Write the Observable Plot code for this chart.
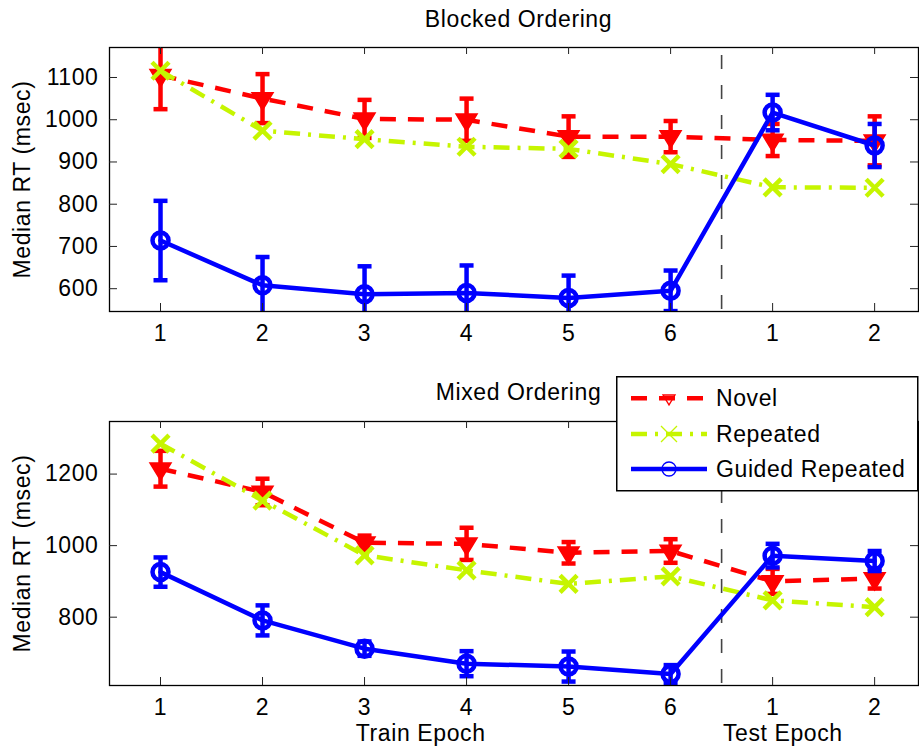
<!DOCTYPE html>
<html>
<head>
<meta charset="utf-8">
<script src="https://cdn.jsdelivr.net/npm/d3@7"></script>
<script src="https://cdn.jsdelivr.net/npm/@observablehq/plot@0.6"></script>
<style>
  body { margin: 0; background: #fff; }
  #wrap { position: relative; width: 919px; height: 754px; font-family: "Liberation Sans", Arial, Helvetica, sans-serif; }
  .panel { position: relative; }
  .panel svg { display: block; letter-spacing: 0.6px; }
  #legend { position: absolute; left: 616px; top: 6px; }
</style>
</head>
<body>
<div id="wrap">
  <div class="panel" id="top"></div>
  <div class="panel" id="bottom"><div id="legend"></div></div>
</div>
<script>
// ---------- data ----------
const epochs = [1, 2, 3, 4, 5, 6, 7, 8];
const epochLabels = ["1", "2", "3", "4", "5", "6", "1", "2"];
const seriesNames = ["Novel", "Repeated", "Guided Repeated"];

// Blocked Ordering (top)
const blockedNovel      = [1105, 1050, 1002, 1000, 960, 960, 952, 950];
const blockedNovelErr   = [80, 58, 45, 50, 48, 37, 38, 58];
const blockedRepeated   = [1116, 974, 954, 936, 931, 895, 840, 839];
const blockedGuided     = [714, 608, 587, 590, 578, 595, 1017, 939];
const blockedGuidedErr  = [94, 67, 66, 65, 53, 48, 42, 51];
const blockedYTicks     = [600, 700, 800, 900, 1000, 1100];

// Mixed Ordering (bottom)
const mixedNovel        = [1215, 1150, 1008, 1005, 980, 985, 900, 908];
const mixedNovelErr     = [50, 37, 20, 45, 30, 33, 35, 28];
const mixedRepeated     = [1285, 1126, 973, 931, 893, 914, 847, 828];
const mixedGuided       = [926, 791, 712, 670, 662, 641, 972, 957];
const mixedGuidedErr    = [41, 42, 20, 35, 42, 25, 33, 28];
const mixedYTicks       = [800, 1000, 1200];

const phaseDivider = [6.5];

// ---------- styles ----------
const RED = "#ff0000", GREEN = "#c6f500", BLUE = "#0000ff";
const LW = 4.5;
const DASH_RED = "16,12";
const DASH_GREEN = "16,8,3,8";
const FONT = '"Liberation Sans", Arial, Helvetica, sans-serif';

const triDown = { draw(ctx, size) { const r = Math.sqrt(size / Math.PI);
  ctx.moveTo(-r, -0.55 * r); ctx.lineTo(r, -0.55 * r); ctx.lineTo(0, 1.1 * r); ctx.closePath(); } };
const cross = { draw(ctx, size) { const r = Math.sqrt(size / Math.PI);
  ctx.moveTo(-r, -r); ctx.lineTo(r, r); ctx.moveTo(-r, r); ctx.lineTo(r, -r); } };
const capSym = { draw(ctx, size) { const r = Math.sqrt(size / Math.PI);
  ctx.moveTo(-r, 0); ctx.lineTo(r, 0); } };

function rows(values, errs) {
  return epochs.map((e, i) => ({ x: e, y: values[i], lo: errs ? values[i] - errs[i] : null, hi: errs ? values[i] + errs[i] : null }));
}

function panel(cfg) {
  const W = 919, mL = 109, mR = 1;
  const fw = W - mL - mR, fh = cfg.height - cfg.marginTop - cfg.marginBottom;
  const nov = rows(cfg.novel, cfg.novelErr);
  const rep = rows(cfg.repeated, null);
  const gui = rows(cfg.guided, cfg.guidedErr);
  const marks = [
    Plot.ruleX(phaseDivider, {x: d => d, stroke: "#444", strokeWidth: 1.6, strokeDasharray: "14,16", strokeDashoffset: -8}),
    // Novel
    Plot.line(nov, {x: "x", y: "y", stroke: RED, strokeWidth: LW, strokeDasharray: DASH_RED, strokeLinecap: "butt", clip: true}),
    Plot.ruleX(nov, {x: "x", y1: "lo", y2: "hi", stroke: RED, strokeWidth: LW, clip: true}),
    Plot.dot(nov, {x: "x", y: "hi", symbol: capSym, r: 7, stroke: RED, strokeWidth: LW, clip: true}),
    Plot.dot(nov, {x: "x", y: "lo", symbol: capSym, r: 7, stroke: RED, strokeWidth: LW, clip: true}),
    Plot.dot(nov, {x: "x", y: "y", symbol: triDown, r: 10.5, fill: RED, stroke: RED, strokeWidth: 1.5}),
    // Repeated
    Plot.line(rep, {x: "x", y: "y", stroke: GREEN, strokeWidth: LW, strokeDasharray: DASH_GREEN, strokeLinecap: "butt"}),
    Plot.dot(rep, {x: "x", y: "y", symbol: cross, r: 8.5, stroke: GREEN, strokeWidth: LW, fill: "none"}),
    // Guided Repeated
    Plot.line(gui, {x: "x", y: "y", stroke: BLUE, strokeWidth: LW}),
    Plot.ruleX(gui, {x: "x", y1: "lo", y2: "hi", stroke: BLUE, strokeWidth: LW, clip: true}),
    Plot.dot(gui, {x: "x", y: "hi", symbol: capSym, r: 7, stroke: BLUE, strokeWidth: LW, clip: true}),
    Plot.dot(gui, {x: "x", y: "lo", symbol: capSym, r: 7, stroke: BLUE, strokeWidth: LW, clip: true}),
    Plot.dot(gui, {x: "x", y: "y", r: 8, stroke: BLUE, strokeWidth: LW, fill: "none"}),
    // frame and inward ticks
    Plot.frame({stroke: "black", strokeWidth: 1.3}),
    Plot.ruleX(epochs, {x: d => d, insetTop: fh - 8, stroke: "#222", strokeWidth: 1}),
    Plot.ruleX(epochs, {x: d => d, insetBottom: fh - 7, stroke: "#222", strokeWidth: 1}),
    Plot.ruleY(cfg.yTicks, {y: d => d, insetRight: fw - 8, stroke: "#222", strokeWidth: 1}),
    Plot.ruleY(cfg.yTicks, {y: d => d, insetLeft: fw - 8, stroke: "#222", strokeWidth: 1}),
    // axes
    Plot.axisX(epochs, {tickSize: 0, tickPadding: 13, tickFormat: d => epochLabels[epochs.indexOf(d)], label: null, fontSize: 23, fill: "black"}),
    Plot.axisY(cfg.yTicks, {tickSize: 0, tickPadding: 11, tickFormat: d => String(d), label: null, fontSize: 23, fill: "black"}),
    // title
    Plot.text([cfg.title], {frameAnchor: "top", text: d => d, dy: cfg.titleDy, dx: 4.5, lineAnchor: "middle", fontSize: 23, fill: "black"}),
    // y label
    Plot.text(["Median RT (msec)"], {frameAnchor: "left", text: d => d, rotate: -90, dx: -86.5, textAnchor: "middle", lineAnchor: "middle", fontSize: 23, fill: "black"})
  ];
  if (cfg.xTitles) {
    marks.push(Plot.text(cfg.xTitles, {x: "x", text: "text", frameAnchor: "bottom", dy: 48, lineAnchor: "middle", fontSize: 23, fill: "black"}));
  }
  return Plot.plot({
    width: W, height: cfg.height,
    marginTop: cfg.marginTop, marginBottom: cfg.marginBottom, marginLeft: mL, marginRight: mR,
    style: {fontFamily: FONT, fontSize: "23px", color: "black", background: "white", overflow: "visible"},
    x: {domain: [0.5, 8.43], axis: null},
    y: {domain: cfg.yDomain, axis: null},
    marks
  });
}

document.getElementById("top").appendChild(panel({
  novel: blockedNovel, novelErr: blockedNovelErr, repeated: blockedRepeated,
  guided: blockedGuided, guidedErr: blockedGuidedErr,
  yDomain: [546, 1171], yTicks: blockedYTicks, title: "Blocked Ordering",
  height: 370, marginTop: 47, marginBottom: 59, titleDy: -27.5
}));

document.getElementById("bottom").insertBefore(panel({
  novel: mixedNovel, novelErr: mixedNovelErr, repeated: mixedRepeated,
  guided: mixedGuided, guidedErr: mixedGuidedErr,
  yDomain: [609, 1347], yTicks: mixedYTicks, title: "Mixed Ordering",
  height: 384, marginTop: 51, marginBottom: 69, titleDy: -28.5,
  xTitles: [{x: 3.55, text: "Train Epoch"}, {x: 7.1, text: "Test Epoch"}]
}), document.getElementById("legend"));

// ---------- legend ----------
(function () {
  const svg = d3.select("#legend").append("svg").attr("width", 303).attr("height", 116)
    .style("display", "block").style("letter-spacing", "0.6px");
  svg.append("rect").attr("x", 0.75).attr("y", 0.75).attr("width", 301).attr("height", 114)
    .attr("fill", "white").attr("stroke", "black").attr("stroke-width", 1.5);
  const items = [
    {name: seriesNames[0], color: RED, dash: DASH_RED, sym: triDown, r: 6},
    {name: seriesNames[1], color: GREEN, dash: DASH_GREEN, sym: cross, r: 8},
    {name: seriesNames[2], color: BLUE, dash: null, sym: d3.symbolCircle, r: 7}
  ];
  const rowsY = [22.3, 58, 93];
  items.forEach((it, i) => {
    const g = svg.append("g").attr("transform", `translate(0,${rowsY[i]})`);
    g.append("line").attr("x1", 15).attr("x2", 91).attr("y1", 0).attr("y2", 0)
      .attr("stroke", it.color).attr("stroke-width", LW)
      .attr("stroke-dasharray", it.dash).attr("stroke-dashoffset", 0);
    g.append("path").attr("transform", "translate(53,0)")
      .attr("d", d3.symbol(it.sym, Math.PI * it.r * it.r)())
      .attr("fill", "none").attr("stroke", it.color).attr("stroke-width", 1.3);
    g.append("text").attr("x", 100).attr("y", 0).attr("dy", "0.35em")
      .attr("font-family", FONT).attr("font-size", 23).attr("fill", "black").text(it.name);
  });
})();
</script>
</body>
</html>
